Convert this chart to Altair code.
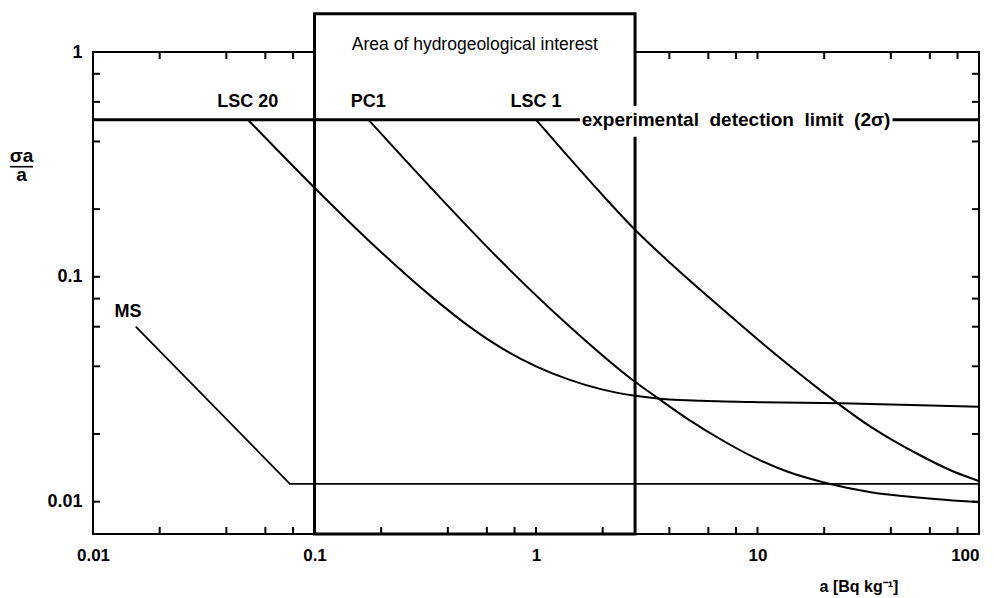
import altair as alt
import pandas as pd

# ---- data ----
# activity a [Bq/kg] and relative uncertainty sigma_a / a
lsc20_a = [0.05, 0.1, 0.175, 0.346, 0.49, 0.7, 1.0, 1.4, 2.0, 2.8, 4.0, 5.6, 10, 24, 100]
lsc20_s = [0.5, 0.249, 0.1455, 0.080, 0.061, 0.0482, 0.040, 0.035, 0.0315, 0.0296, 0.0285, 0.0281, 0.0277, 0.0274, 0.0264]

pc1_a = [0.175, 0.346, 0.695, 1.394, 2.77, 3.67, 4.85, 6.84, 9.64, 13.7, 20.8, 32.5, 54.7, 100]
pc1_s = [0.5, 0.241, 0.1175, 0.0611, 0.0344, 0.0282, 0.0233, 0.0189, 0.01574, 0.01358, 0.01205, 0.01102, 0.0104, 0.00993]

lsc1_a = [1.0, 1.394, 1.966, 2.77, 4.07, 6.84, 11.5, 19.4, 32.5, 54.7, 77.1, 100]
lsc1_s = [0.5, 0.3436, 0.235, 0.1637, 0.1143, 0.0728, 0.0470, 0.0311, 0.0215, 0.0160, 0.01358, 0.01236]

ms_a = [0.0156, 0.0774, 100]
ms_s = [0.060, 0.012, 0.012]

det_a = [0.01, 100]
det_s = [0.5, 0.5]

curve_names = ["LSC 20", "PC1", "LSC 1"]
curve_label_a = [0.05, 0.175, 1.0]
curve_label_s = [0.57, 0.57, 0.57]
ms_label_a = [0.0144]
ms_label_s = [0.0664]

box_a = [0.1, 2.8]          # area of hydrogeological interest
x_domain = [0.01, 100]
y_domain = [0.00718, 1.0]
box_top = 1.48

det_label = "experimental\u00a0\u00a0detection\u00a0\u00a0limit\u00a0\u00a0(2σ)"
det_label_a = [8.0]
det_bg_a = [1.58, 40.7]
det_bg_s = [0.42, 0.575]

title_text = "Area of hydrogeological interest"
title_a = [0.53]
title_s = [1.02]

x_major = [0.01, 0.1, 1, 10, 100]
y_major = [0.01, 0.1, 1]
x_ticks = [0.01, 0.02, 0.04, 0.06, 0.08, 0.1, 0.2, 0.4, 0.6, 0.8, 1, 2, 4, 6, 8,
           10, 20, 40, 60, 80, 100]
y_ticks = [0.01, 0.02, 0.04, 0.06, 0.08, 0.1, 0.2, 0.4, 0.6, 0.8, 1]

FONT = "Liberation Sans"
W, H = 886, 482
TICK = 7

# ---- tables ----
curves = pd.concat([
    pd.DataFrame({"a": lsc20_a, "s": lsc20_s, "curve": "LSC 20"}),
    pd.DataFrame({"a": pc1_a, "s": pc1_s, "curve": "PC1"}),
    pd.DataFrame({"a": lsc1_a, "s": lsc1_s, "curve": "LSC 1"}),
])
ms = pd.DataFrame({"a": ms_a, "s": ms_s})
det = pd.DataFrame({"a": det_a, "s": det_s})
box = pd.DataFrame({"a0": [box_a[0]], "a1": [box_a[1]], "s0": [y_domain[0]], "s1": [box_top]})
labels = pd.DataFrame({"a": curve_label_a + ms_label_a, "s": curve_label_s + ms_label_s,
                       "label": curve_names + ["MS"]})
det_bg = pd.DataFrame({"a0": [det_bg_a[0]], "a1": [det_bg_a[1]], "s0": [det_bg_s[0]], "s1": [det_bg_s[1]]})
det_lab = pd.DataFrame({"a": det_label_a, "s": [det_s[0]], "label": [det_label]})
title_df = pd.DataFrame({"a": title_a, "s": title_s, "label": [title_text]})
xt = pd.DataFrame({"v": x_ticks})
yt = pd.DataFrame({"v": y_ticks})
one = pd.DataFrame({"k": [0]})

xs = alt.Scale(type="log", domain=x_domain, nice=False)
ys = alt.Scale(type="log", domain=y_domain, nice=False)

x_axis = alt.Axis(orient="bottom", values=x_major, format="~g", ticks=False,
                  domain=False, grid=False, title=None, labelFont=FONT, labelFontSize=17,
                  labelFontWeight="bold", labelColor="black", labelPadding=13,
                  labelOverlap=False, labelFlush=False, zindex=1,
                  labelAlign={"condition": {"test": "datum.value >= 100", "value": "right"},
                              "value": "center"})
y_axis = alt.Axis(orient="left", values=y_major, format="~g", ticks=False,
                  domain=False, grid=False, title=None, labelFont=FONT, labelFontSize=18,
                  labelFontWeight="bold", labelColor="black", labelPadding=11,
                  labelOverlap=False, labelFlush=False, zindex=1)

X = lambda f: alt.X(f, scale=xs, axis=None)
Y = lambda f: alt.Y(f, scale=ys, axis=None)

# inward ticks (top ticks go below the white box, the others above it)
top_ticks = alt.Chart(xt).mark_rule(color="black", strokeWidth=2).encode(
    x=X("v:Q"), y=alt.value(0), y2=alt.value(TICK))
bottom_ticks = alt.Chart(xt).mark_rule(color="black", strokeWidth=2).encode(
    x=X("v:Q"), y=alt.value(H - TICK), y2=alt.value(H))
left_ticks = alt.Chart(yt).mark_rule(color="black", strokeWidth=2).encode(
    y=Y("v:Q"), x=alt.value(0), x2=alt.value(TICK))
right_ticks = alt.Chart(yt).mark_rule(color="black", strokeWidth=2).encode(
    y=Y("v:Q"), x=alt.value(W - TICK), x2=alt.value(W))

box_layer = alt.Chart(box).mark_rect(fill="white", stroke="black", strokeWidth=3, clip=False).encode(
    x=alt.X("a0:Q", scale=xs, axis=x_axis), x2="a1:Q",
    y=alt.Y("s0:Q", scale=ys, axis=y_axis), y2="s1:Q")

curve_layer = alt.Chart(curves).mark_line(color="black", strokeWidth=2, interpolate="monotone").encode(
    x=X("a:Q"), y=Y("s:Q"), detail="curve:N")

ms_layer = alt.Chart(ms).mark_line(color="black", strokeWidth=1.8).encode(x=X("a:Q"), y=Y("s:Q"))

det_layer = alt.Chart(det).mark_line(color="black", strokeWidth=3).encode(x=X("a:Q"), y=Y("s:Q"))

det_bg_layer = alt.Chart(det_bg).mark_rect(fill="white", strokeWidth=0).encode(
    x=X("a0:Q"), x2="a1:Q", y=Y("s0:Q"), y2="s1:Q")

det_text = alt.Chart(det_lab).mark_text(font=FONT, fontSize=19, fontWeight="bold", color="black",
                                        align="center", baseline="middle").encode(
    x=X("a:Q"), y=Y("s:Q"), text="label:N")

label_text = alt.Chart(labels).mark_text(font=FONT, fontSize=18, fontWeight="bold", color="black",
                                         align="center", baseline="alphabetic").encode(
    x=X("a:Q"), y=Y("s:Q"), text="label:N")

title_layer = alt.Chart(title_df).mark_text(font=FONT, fontSize=17.5, color="black",
                                            align="center", baseline="alphabetic").encode(
    x=X("a:Q"), y=Y("s:Q"), text="label:N")

# y-axis title as a fraction  σa / a
ytitle_top = alt.Chart(one).mark_text(text="σa", font=FONT, fontSize=19, fontWeight="bold",
                                      color="black", align="center", baseline="alphabetic").encode(
    x=alt.value(-71.5), y=alt.value(110))
ytitle_bar = alt.Chart(one).mark_rule(color="black", strokeWidth=1.6).encode(
    x=alt.value(-83), x2=alt.value(-60), y=alt.value(114.7))
ytitle_bot = alt.Chart(one).mark_text(text="a", font=FONT, fontSize=19, fontWeight="bold",
                                      color="black", align="center", baseline="alphabetic").encode(
    x=alt.value(-71.5), y=alt.value(129))
xtitle = alt.Chart(one).mark_text(text="a [Bq kg⁻¹]", font=FONT, fontSize=16, fontWeight="bold",
                                  color="black", align="center", baseline="alphabetic").encode(
    x=alt.value(766), y=alt.value(540))

chart = alt.layer(
    top_ticks, box_layer, bottom_ticks, left_ticks, right_ticks,
    curve_layer, ms_layer, det_layer, det_bg_layer, det_text, label_text, title_layer,
    ytitle_top, ytitle_bar, ytitle_bot, xtitle
).resolve_axis(x="independent", y="independent").properties(
    width=W, height=H,
    autosize=alt.AutoSizeParams(type="none"),
    padding={"left": 85, "top": 44, "right": 7, "bottom": 62},
    background="white",
).configure_view(stroke="black", strokeWidth=2)

chart.save("out.html", embed_options={"renderer": "svg", "actions": False})
